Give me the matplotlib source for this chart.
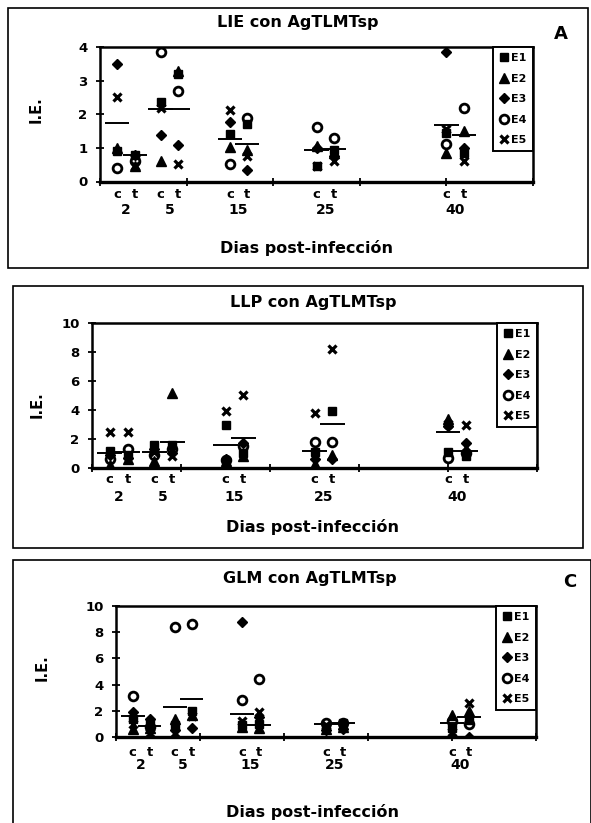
import matplotlib
matplotlib.use("Agg")
import matplotlib.pyplot as plt
from matplotlib.lines import Line2D
from matplotlib.patches import Rectangle

plt.rcParams["font.family"] = ["DejaVu Sans"]
plt.rcParams["font.weight"] = "bold"

# ── Data ──────────────────────────────────────────────────────────────────────
days   = [2, 5, 15, 25, 40]
c_x    = [2, 7, 15, 25, 40]        # x position of "c" (control) points
t_x    = [4, 9, 17, 27, 42]        # x position of "t" (treated) points
series = ["E1", "E2", "E3", "E4", "E5"]

# rows = E1..E5, columns = days
lie_c = [
    [0.90, 2.35, 1.40, 0.45, 1.45],
    [1.00, 0.60, 1.02, 1.05, 0.85],
    [3.50, 1.38, 1.77, 1.00, 3.85],
    [0.40, 3.85, 0.52, 1.62, 1.12],
    [2.50, 2.20, 2.12, 0.45, 1.55],
]
lie_t = [
    [0.80, 3.20, 1.72, 0.95, 0.85],
    [0.45, 3.30, 0.95, 0.85, 1.50],
    [0.80, 1.08, 0.35, 0.75, 1.00],
    [0.60, 2.70, 1.90, 1.30, 2.18],
    [0.45, 0.52, 0.75, 0.60, 0.60],
]
lie_mean_c = [1.75, 2.15, 1.25, 0.95, 1.68]
lie_mean_t = [0.80, 2.15, 1.12, 0.98, 1.38]

llp_c = [
    [1.20, 1.60, 2.95, 1.10, 1.10],
    [0.20, 0.50, 0.50, 0.30, 3.40],
    [0.90, 1.30, 0.60, 0.60, 2.90],
    [0.60, 0.90, 0.55, 1.80, 0.70],
    [2.45, 1.10, 3.90, 3.80, 3.00],
]
llp_t = [
    [0.90, 1.60, 1.00, 3.90, 0.80],
    [0.60, 5.15, 0.80, 0.90, 1.30],
    [0.70, 1.00, 1.70, 0.60, 1.70],
    [1.30, 1.30, 1.50, 1.80, 1.00],
    [2.50, 0.80, 5.00, 8.20, 2.95],
]
llp_mean_c = [1.06, 1.10, 1.62, 1.15, 2.48]
llp_mean_t = [1.10, 1.78, 2.08, 3.06, 1.15]

glm_c = [
    [1.40, 0.90, 0.90, 0.80, 0.70],
    [0.60, 1.35, 0.80, 0.60, 1.70],
    [1.90, 0.50, 8.75, 0.50, 0.00],
    [3.10, 8.40, 2.85, 1.10, 1.20],
    [1.00, 0.30, 1.20, 0.90, 0.40],
]
glm_t = [
    [1.00, 2.00, 1.00, 1.05, 1.30],
    [0.70, 1.70, 0.70, 0.80, 2.00],
    [1.35, 0.65, 1.50, 0.60, 0.00],
    [0.80, 8.65, 4.45, 1.10, 1.00],
    [0.30, 1.60, 1.90, 0.90, 2.60],
]
glm_mean_c = [1.57, 2.26, 1.75, 0.97, 1.10]
glm_mean_t = [0.86, 2.92, 0.95, 1.10, 1.55]

# ── Layout helpers (pixel coords, top-left origin) ────────────────────────────
W, H = 591, 823
fig = plt.figure(figsize=(W / 100, H / 100), dpi=100)

def fxy(px, py):
    return px / W, 1 - py / H

def add_box(l, t, r, b):
    x0, y0 = fxy(l, b)
    fig.add_artist(Rectangle((x0, y0), (r - l) / W, (b - t) / H,
                             transform=fig.transFigure, fill=False,
                             edgecolor="black", linewidth=1.2))

def ftext(px, py, s, **kw):
    x, y = fxy(px, py)
    fig.text(x, y, s, ha="center", va="center", fontweight="bold", **kw)

styles = [
    dict(marker="s", ms=6.3, mfc="black", mec="black"),
    dict(marker="^", ms=7.0, mfc="black", mec="black"),
    dict(marker="D", ms=5.5, mfc="black", mec="black"),
    dict(marker="o", ms=6.3, mfc="none", mec="black", mew=2.0),
    dict(marker="x", ms=6.3, mfc="black", mec="black", mew=2.3),
]

def panel(ax_px, vals_c, vals_t, mean_c, mean_t, ymax, ystep,
          title, title_xy, ylab_xy, ct_off, day_off, xlab_xy, letter_xy=None, letter=None):
    l, t, r, b = ax_px
    x0, y0 = fxy(l, b)
    ax = fig.add_axes([x0, y0, (r - l) / W, (b - t) / H])

    for i in range(5):
        ax.plot(c_x, vals_c[i], linestyle="none", color="black", **styles[i])
        ax.plot(t_x, vals_t[i], linestyle="none", color="black", **styles[i])
    ax.hlines(mean_c, [x - 1.4 for x in c_x], [x + 1.4 for x in c_x],
              color="black", linewidth=1.4)
    ax.hlines(mean_t, [x - 1.4 for x in t_x], [x + 1.4 for x in t_x],
              color="black", linewidth=1.4)

    ax.set_xlim(0, 50)
    ax.set_ylim(0, ymax)
    ax.set_xticks(range(0, 51, 10))
    ax.set_xticklabels([])
    ax.set_yticks(range(0, ymax + 1, ystep))
    ax.tick_params(axis="both", direction="inout", length=6, width=1.3,
                   labelsize=9.5, pad=6)
    for lab in ax.get_yticklabels():
        lab.set_fontweight("bold")
    for sp in ax.spines.values():
        sp.set_linewidth(1.8)
    ax.spines["bottom"].set_linewidth(2.4)

    # c / t and day labels under the axis
    for cx, tx, d in zip(c_x, t_x, days):
        for xx, s in ((cx, "c"), (tx, "t")):
            ax.annotate(s, xy=(xx, 0), xycoords=("data", "axes fraction"),
                        xytext=(0, -ct_off * 0.72), textcoords="offset points",
                        ha="center", va="center", fontsize=9.5, fontweight="bold")
        ax.annotate(str(d), xy=((cx + tx) / 2, 0), xycoords=("data", "axes fraction"),
                    xytext=(0, -day_off * 0.72), textcoords="offset points",
                    ha="center", va="center", fontsize=10, fontweight="bold")

    handles = [Line2D([], [], linestyle="none", color="black", **st) for st in styles]
    leg = ax.legend(handles, series, loc="upper right", borderaxespad=0,
                    fancybox=False, edgecolor="black", framealpha=1,
                    prop={"weight": "bold", "size": 8}, handlelength=0.8,
                    handletextpad=0.3, labelspacing=0.95, borderpad=0.55)
    leg.get_frame().set_linewidth(1.4)

    ftext(*title_xy, title, fontsize=11.5)
    ftext(*ylab_xy, "I.E.", fontsize=10.5, rotation=90)
    ftext(*xlab_xy, "Dias post-infección", fontsize=11.5)
    if letter:
        ftext(*letter_xy, letter, fontsize=13)
    return ax

add_box(8, 8, 588, 268)
add_box(13, 286, 583, 548)
add_box(13, 560, 591, 830)

panel((100, 47, 533, 181.5), lie_c, lie_t, lie_mean_c, lie_mean_t, 4, 1,
      "LIE con AgTLMTsp", (298, 22), (36, 110), 13, 29, (307, 248), (561, 34), "A")
panel((92, 323, 537, 468), llp_c, llp_t, llp_mean_c, llp_mean_t, 10, 2,
      "LLP con AgTLMTsp", (313, 303), (37, 405), 12, 29, (313, 527))
panel((116, 606, 536, 737), glm_c, glm_t, glm_mean_c, glm_mean_t, 10, 2,
      "GLM con AgTLMTsp", (310, 578), (42, 668), 15, 28, (313, 812), (570, 582), "C")

fig.savefig("out.png", dpi=100)
